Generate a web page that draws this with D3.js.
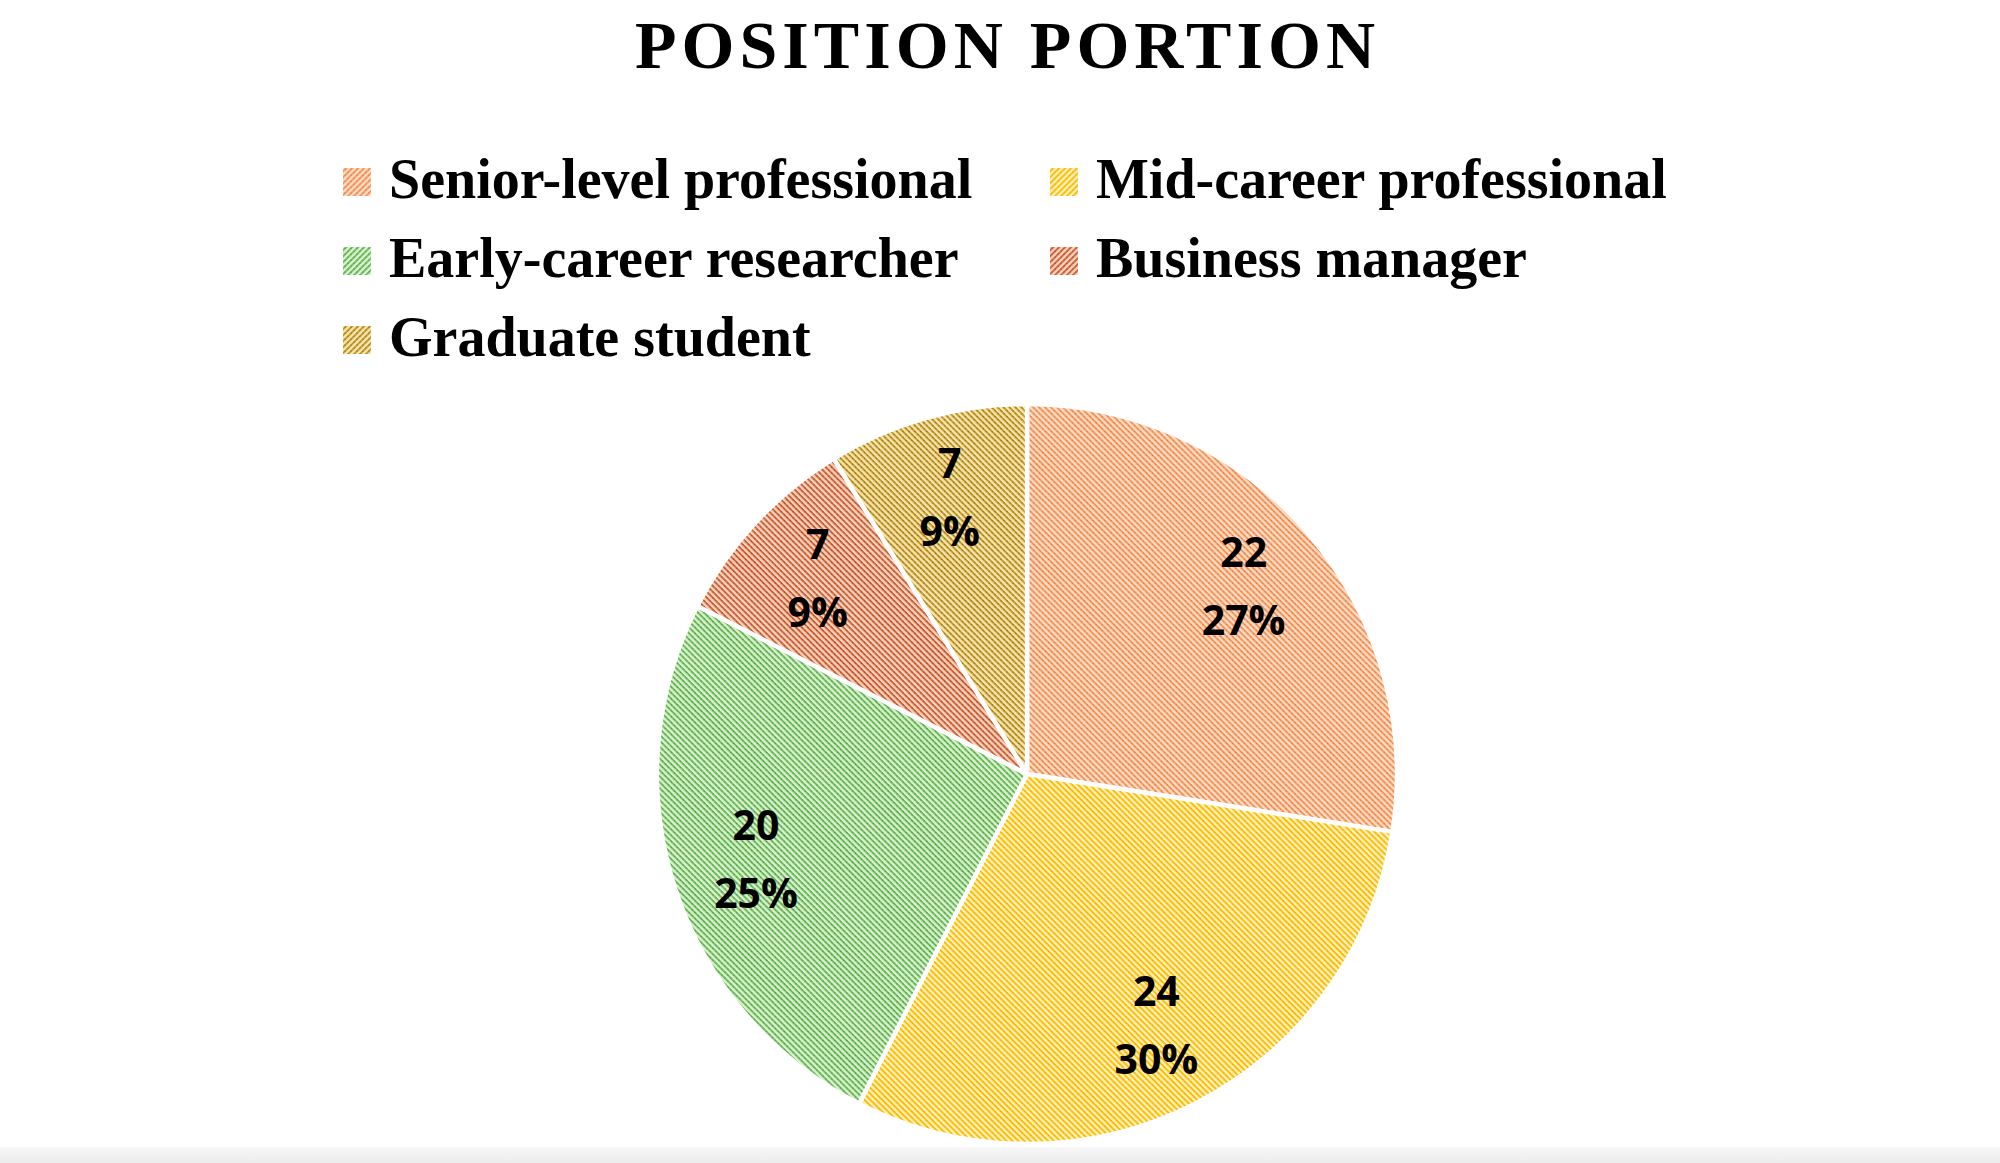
<!DOCTYPE html>
<html>
<head>
<meta charset="utf-8">
<script src="https://cdn.jsdelivr.net/npm/d3@7"></script>
<style>
	html, body { margin: 0; padding: 0; background: #ffffff; }
	svg { display: block; }
</style>
</head>
<body>
<svg id="chart" width="2000" height="1163"></svg>
<script>
// data
var categories = ["Senior-level professional", "Mid-career professional", "Early-career researcher", "Business manager", "Graduate student"];
var counts = [22, 24, 20, 7, 7];
var percent_labels = ["27%", "30%", "25%", "9%", "9%"];
var chart_title = "POSITION PORTION";

// stripe colour, dot colour and pale ground per slice
var stripe_colors = ["#f59a62", "#ffc000", "#72bf5c", "#d5683a", "#c89a20"];
var dot_colors = ["#f07a30", "#f5b000", "#3fa83a", "#b8481c", "#9a7410"];
var ground_colors = ["#fddcc6", "#fff0c0", "#dcefd3", "#f6d3c0", "#f5e4b5"];

var svg = d3.select("#chart");
var width = 2000, height = 1163;
var cx = 1027, cy = 774, radius = 370;

// fine hatch patterns, one for pie and one for legend boxes
var defs = svg.append("defs");
function make_pattern(id, i, angle){
	var p = defs.append("pattern")
		.attr("id", id)
		.attr("patternUnits", "userSpaceOnUse")
		.attr("width", 4.2)
		.attr("height", 4.2)
		.attr("patternTransform", "rotate(" + angle + ")");
	p.append("rect")
		.attr("width", 4.2).attr("height", 4.2)
		.attr("fill", ground_colors[i]);
	p.append("rect")
		.attr("x", 0).attr("y", 0)
		.attr("width", 4.2).attr("height", 1.9)
		.attr("fill", stripe_colors[i]);
	p.append("circle")
		.attr("cx", 2.1).attr("cy", 0.95)
		.attr("r", 0.8)
		.attr("fill", dot_colors[i]);
}
categories.forEach(function(c, i){
	make_pattern("pie_fill_" + i, i, 45);
	make_pattern("key_fill_" + i, i, -45);
});

// faint grey band along the bottom edge
var grad = defs.append("linearGradient")
	.attr("id", "bottom_band")
	.attr("x1", 0).attr("y1", 0).attr("x2", 0).attr("y2", 1);
grad.append("stop").attr("offset", "0%").attr("stop-color", "#f7f7f7");
grad.append("stop").attr("offset", "100%").attr("stop-color", "#ececec");
svg.append("rect")
	.attr("x", 0).attr("y", 1147)
	.attr("width", width).attr("height", height - 1147)
	.attr("fill", "url(#bottom_band)");

// title
svg.append("text")
	.attr("x", 635)
	.attr("y", 68)
	.attr("textLength", 740)
	.attr("lengthAdjust", "spacing")
	.style("font-family", "'Liberation Serif', 'DejaVu Serif', serif")
	.style("font-weight", "bold")
	.style("font-size", "68px")
	.attr("fill", "#000")
	.text(chart_title);

// legend, two columns
var legend_cols = [343, 1050];
var legend_rows = [182, 261, 340];
var legend = svg.append("g").attr("class", "legend");
categories.forEach(function(name, i){
	var lx = legend_cols[i % 2];
	var ly = legend_rows[Math.floor(i / 2)];
	var item = legend.append("g").attr("transform", "translate(" + lx + "," + ly + ")");
	item.append("rect")
		.attr("x", 0).attr("y", -14)
		.attr("width", 28).attr("height", 28)
		.attr("fill", "url(#key_fill_" + i + ")");
	item.append("text")
		.attr("x", 46)
		.attr("y", 16)
		.style("font-family", "'Liberation Serif', 'DejaVu Serif', serif")
		.style("font-weight", "bold")
		.style("font-size", "56px")
		.attr("fill", "#000")
		.text(name);
});

// pie
var pie = d3.pie().sort(null).value(function(d){ return d; });
var arcs = pie(counts);
var arc = d3.arc().innerRadius(0).outerRadius(radius);
var label_arc = d3.arc().innerRadius(radius * 0.77).outerRadius(radius * 0.77);

var g = svg.append("g").attr("transform", "translate(" + cx + "," + cy + ")");

g.selectAll("path.slice")
	.data(arcs)
	.enter()
	.append("path")
	.attr("class", "slice")
	.attr("d", arc)
	.attr("fill", function(d, i){ return "url(#pie_fill_" + i + ")"; })
	.attr("stroke", "#ffffff")
	.attr("stroke-width", 4.5)
	.attr("stroke-linejoin", "round");

var labels = g.selectAll("g.data_label")
	.data(arcs)
	.enter()
	.append("g")
	.attr("class", "data_label")
	.attr("transform", function(d){
		var c = label_arc.centroid(d);
		return "translate(" + c[0] + "," + c[1] + ")";
	});

labels.append("text")
	.attr("y", -22)
	.attr("text-anchor", "middle")
	.style("font-family", "'Open Sans', 'Noto Sans', sans-serif")
	.style("font-weight", "bold")
	.style("font-size", "41px")
	.attr("fill", "#000")
	.text(function(d){ return d.data; });

labels.append("text")
	.attr("y", 46)
	.attr("text-anchor", "middle")
	.style("font-family", "'Open Sans', 'Noto Sans', sans-serif")
	.style("font-weight", "bold")
	.style("font-size", "41px")
	.attr("fill", "#000")
	.text(function(d, i){ return percent_labels[i]; });
</script>
</body>
</html>
